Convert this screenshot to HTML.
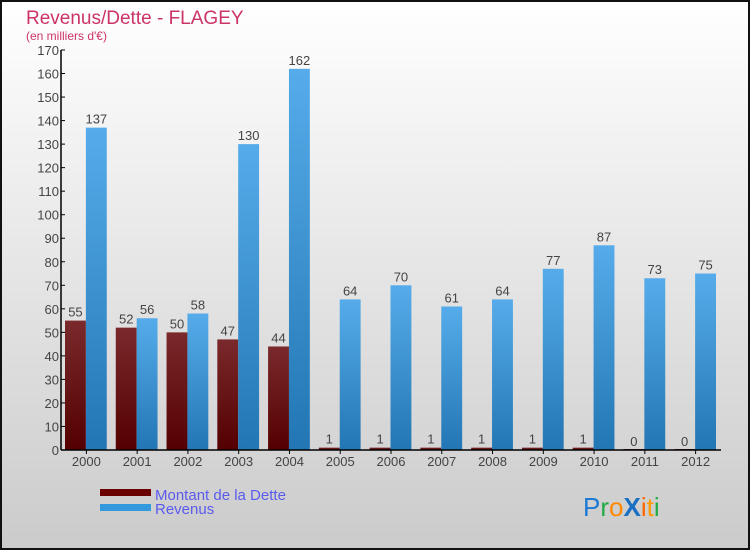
<!DOCTYPE html>
<html><head><meta charset="utf-8"><style>
html,body{margin:0;padding:0}
body{width:750px;height:550px;overflow:hidden;font-family:"Liberation Sans",sans-serif}
svg text{font-family:"Liberation Sans",sans-serif}
</style></head><body>
<svg id="c" width="750" height="550" xmlns="http://www.w3.org/2000/svg">
<defs>
<linearGradient id="bg" x1="0" y1="0" x2="0" y2="1"><stop offset="0" stop-color="#ffffff"/><stop offset="1" stop-color="#cbcbcb"/></linearGradient>
<linearGradient id="gd" x1="0" y1="0" x2="0" y2="1"><stop offset="0" stop-color="#7a2a2c"/><stop offset="1" stop-color="#540000"/></linearGradient>
<linearGradient id="gr" x1="0" y1="0" x2="0" y2="1"><stop offset="0" stop-color="#56acea"/><stop offset="1" stop-color="#2376b4"/></linearGradient>
</defs>
<rect x="1" y="1" width="748" height="548" fill="url(#bg)" stroke="#111" stroke-width="2"/>
<text x="26" y="24" font-size="19" fill="#cc3366">Revenus/Dette - FLAGEY</text>
<text x="26" y="40" font-size="12" fill="#cc3366">(en milliers d'€)</text>
<g id="plot"></g>
<g>
<rect x="100" y="489" width="51" height="7" fill="#6b0000"/>
<rect x="100" y="504" width="51" height="7" fill="#3399dd"/>
<text x="155" y="500" font-size="15" fill="#5a5aee">Montant de la Dette</text>
<text x="155" y="514" font-size="15" fill="#5a5aee">Revenus</text>
</g>
<text x="583" y="516" font-size="26"><tspan fill="#1a7ad4">P</tspan><tspan fill="#22aa44">r</tspan><tspan fill="#ff8800">o</tspan><tspan fill="#1a6fc4" font-weight="bold">X</tspan><tspan fill="#ff6600">i</tspan><tspan fill="#ff9900">t</tspan><tspan fill="#22aa44">i</tspan></text>
</svg>
<script>
const categories=["2000","2001","2002","2003","2004","2005","2006","2007","2008","2009","2010","2011","2012"];
const debtValues=[55,52,50,47,44,1,1,1,1,1,1,0,0];
const revenueValues=[137,56,58,130,162,64,70,61,64,77,87,73,75];
const yTicks=[0,10,20,30,40,50,60,70,80,90,100,110,120,130,140,150,160,170];
const yMax=170;
const NS="http://www.w3.org/2000/svg";
const x0=61,x1=721,yTop=50,yBot=450;
const step=(x1-x0)/categories.length;
const y=v=>yBot-(v/yMax)*(yBot-yTop);
const g=document.getElementById('plot');
function mk(t,a,txt){const e=document.createElementNS(NS,t);for(const k in a)e.setAttribute(k,a[k]);if(txt!==undefined)e.textContent=txt;g.appendChild(e);return e;}
yTicks.forEach(t=>{
 const tk=mk('line',{x1:x0,x2:x0+4,y1:y(t),y2:y(t),stroke:'#000'});
 
 
 const l=mk('text',{x:x0-2,y:y(t)+5,'font-size':13,fill:'#444','text-anchor':'end'},t);
 
 
});
categories.forEach((c,i)=>{
 const gx=x0+i*step;
 const bw=(step-9)/2;
 const dx=gx+4,rx=dx+bw;
 const dh=Math.max(yBot-y(debtValues[i]),debtValues[i]===0?1:0);
 const d=mk('rect',{x:dx,y:yBot-dh,width:bw,height:dh,fill:'url(#gd)'});
 
 
 const r=mk('rect',{x:rx,y:y(revenueValues[i]),width:bw,height:yBot-y(revenueValues[i]),fill:'url(#gr)'});
 
 
 const dl=mk('text',{x:dx+bw/2,y:y(debtValues[i])-4,'font-size':13,fill:'#444','text-anchor':'middle'},debtValues[i]);
 
 
 const rl=mk('text',{x:rx+bw/2,y:y(revenueValues[i])-4,'font-size':13,fill:'#444','text-anchor':'middle'},revenueValues[i]);
 
 
 const cx=gx+step/2;
 const tk=mk('line',{x1:cx,x2:cx,y1:yBot,y2:yBot+4,stroke:'#000'});
 
 
 const xl=mk('text',{x:cx,y:yBot+16,'font-size':13,fill:'#444','text-anchor':'middle'},c);
 
 
});
const ya=mk('line',{x1:x0,x2:x0,y1:yTop,y2:yBot,stroke:'#000','stroke-width':1.5});


const xa=mk('line',{x1:x0,x2:x1,y1:yBot,y2:yBot,stroke:'#000','stroke-width':1.5});


</script>
</body></html>
